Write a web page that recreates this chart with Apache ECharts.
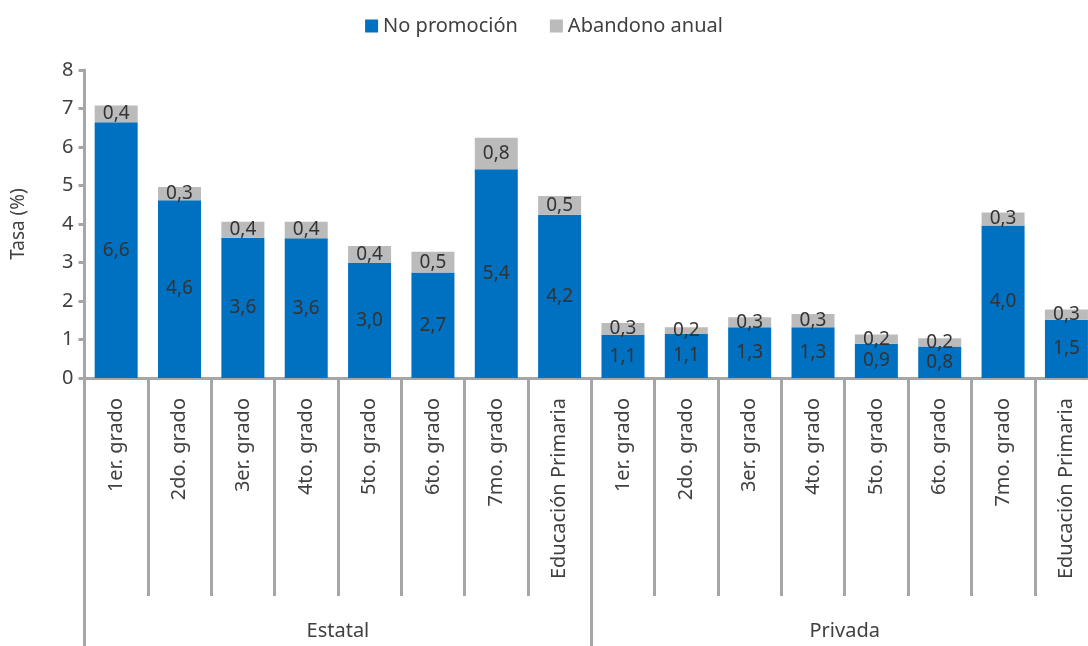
<!DOCTYPE html>
<html>
<head>
<meta charset="utf-8">
<script src="https://cdn.jsdelivr.net/npm/echarts@6/dist/echarts.min.js"></script>
<style>html,body{margin:0;padding:0;background:#fff}#c{width:1088px;height:646px}</style>
</head>
<body>
<div id="c"></div>
<script>
var categories = ['1er. grado','2do. grado','3er. grado','4to. grado','5to. grado','6to. grado','7mo. grado','Educación Primaria',
                  '1er. grado','2do. grado','3er. grado','4to. grado','5to. grado','6to. grado','7mo. grado','Educación Primaria'];
var groups = ['Estatal','Privada'];
var noPromocion = [6.64,4.62,3.64,3.63,2.99,2.74,5.42,4.24, 1.12,1.14,1.32,1.32,0.89,0.82,3.96,1.51];
var abandono    = [0.44,0.34,0.42,0.43,0.44,0.54,0.82,0.49, 0.31,0.18,0.26,0.34,0.24,0.21,0.34,0.27];
var yTicks = [0,1,2,3,4,5,6,7,8];

var FONT = 'Noto Sans';
var TXT = '#404040';
var GRID = '#A6A6A6';
function fmt(p){ return p.value.toFixed(1).replace('.', ','); }

var chart = echarts.init(document.getElementById('c'));
chart.setOption({
  animation: false,
  textStyle: {fontFamily: FONT},
  legend: {
    top: 11, left: 'center',
    itemWidth: 13, itemHeight: 13, itemGap: 32,
    icon: 'rect',
    textStyle: {fontFamily: FONT, fontSize: 20, color: TXT},
    data: ['No promoción','Abandono anual']
  },
  grid: {left: 84.5, width: 1013.6, top: 70, bottom: 268, containLabel: false, outerBoundsMode: 'none'},
  xAxis: [{
    type: 'category',
    data: categories,
    axisLine: {lineStyle: {color: GRID, width: 3}},
    axisTick: {show: true, interval: 0, length: 218, lineStyle: {color: GRID, width: 3}},
    axisLabel: {interval: 0, rotate: 90, margin: 20, fontFamily: FONT, fontSize: 20, color: TXT}
  },{
    type: 'category',
    position: 'bottom',
    data: groups,
    axisLine: {show: false},
    axisTick: {show: true, interval: 0, length: 270, lineStyle: {color: GRID, width: 3}},
    axisLabel: {interval: 0, margin: 243, fontFamily: FONT, fontSize: 20, color: TXT}
  }],
  yAxis: {
    type: 'value', min: yTicks[0], max: yTicks[yTicks.length-1], interval: 1,
    name: 'Tasa (%)', nameLocation: 'middle', nameGap: 56, nameRotate: 90,
    nameTextStyle: {fontFamily: FONT, fontSize: 19, color: TXT},
    splitLine: {show: false},
    axisLine: {show: true, lineStyle: {color: GRID, width: 3}},
    axisTick: {show: true, length: 6, lineStyle: {color: GRID, width: 3}},
    axisLabel: {margin: 11, fontFamily: FONT, fontSize: 20, color: TXT}
  },
  series: [{
    name: 'No promoción', type: 'bar', stack: 't', barWidth: 43,
    xAxisIndex: 0,
    itemStyle: {color: '#0070C0'},
    label: {show: true, position: 'inside', formatter: fmt, fontFamily: FONT, fontSize: 19, color: '#333'},
    data: noPromocion
  },{
    name: 'Abandono anual', type: 'bar', stack: 't', barWidth: 43,
    xAxisIndex: 0,
    itemStyle: {color: '#BBBBBB'},
    label: {show: true, position: 'inside', formatter: fmt, fontFamily: FONT, fontSize: 19, color: '#333'},
    data: abandono
  }]
});
</script>
</body>
</html>
